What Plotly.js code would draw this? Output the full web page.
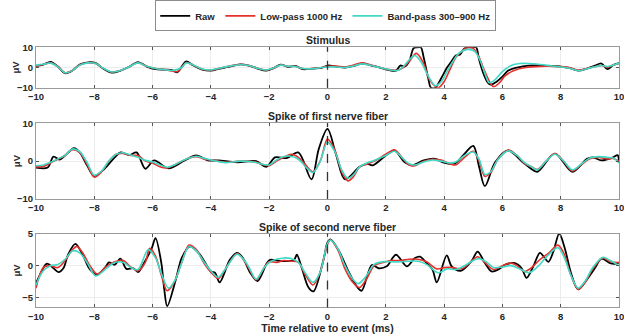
<!DOCTYPE html>
<html>
<head>
<meta charset="utf-8">
<script src="https://cdn.plot.ly/plotly-3.0.1.min.js"></script>
<style>html,body{margin:0;padding:0;background:#fff;}#chart{width:624px;height:336px;}</style>
</head>
<body>
<div id="chart"></div>
<script>
// ---------- DATA ----------
const seriesNames = ["Raw", "Low-pass 1000 Hz", "Band-pass 300–900 Hz"];
const panelTitles = ["Stimulus", "Spike of first nerve fiber", "Spike of second nerve fiber"];
const xTickVals = [-10, -8, -6, -4, -2, 0, 2, 4, 6, 8, 10];
const eventTime = 0;

// Panel 1: Stimulus
const stimRawT = [-10,-9.75,-9.5,-9.25,-9.0,-8.75,-8.5,-8.2,-7.95,-7.7,-7.4,-7.1,-6.85,-6.5,-6.2,-5.9,-5.6,-5.35,-5.15,-5.0,-4.85,-4.6,-4.3,-4.0,-3.7,-3.4,-3.0,-2.7,-2.4,-2.1,-1.85,-1.6,-1.35,-1.1,-0.85,-0.5,-0.2,0,0.3,0.6,0.9,1.2,1.5,1.8,2.1,2.35,2.5,2.65,2.8,2.95,3.05,3.2,3.3,3.45,3.55,3.7,3.8,3.95,4.1,4.25,4.4,4.55,4.7,4.85,5.0,5.1,5.2,5.35,5.5,5.6,5.8,6.0,6.2,6.5,6.9,7.3,7.7,8.0,8.3,8.6,8.9,9.15,9.4,9.6,9.8,10];
const stimRawV = [0.8,1.5,2.8,0.5,-2.8,-1.5,1.5,2.6,2.2,-0.5,-2.5,-1.5,0,2.7,0.5,-0.8,-1,-1.2,-2.3,0.5,3,1,-1,-1.5,-0.5,0.3,1.6,1,-0.5,-1.5,-0.3,1.5,0.3,0.8,-0.8,-0.5,-0.2,1,0.5,0,0.8,2,1,0,-1.2,-1.5,1,0.5,3,9.5,10,10,5,-5,-10,-10,-8,-4,0,3,6,6.5,9.5,10,10,10,4,-3,-7.5,-8.5,-7,-4.5,-1.5,0,1,1,0.8,0.5,-0.2,-1.5,-0.5,0.8,2,-0.8,1.2,2.2];
const stimLpT = [-10,-9.75,-9.5,-9.25,-9.0,-8.75,-8.5,-8.2,-7.95,-7.7,-7.4,-7.1,-6.85,-6.5,-6.2,-5.9,-5.6,-5.3,-5.15,-5.0,-4.85,-4.6,-4.3,-4.0,-3.7,-3.4,-3.0,-2.7,-2.4,-2.1,-1.85,-1.6,-1.35,-1.1,-0.85,-0.5,-0.2,0,0.3,0.6,0.9,1.2,1.5,1.8,2.1,2.4,2.6,2.8,3.05,3.3,3.5,3.8,4.0,4.2,4.4,4.6,4.8,5.0,5.2,5.4,5.6,5.7,5.9,6.1,6.4,6.8,7.3,7.7,8.0,8.3,8.6,8.9,9.2,9.4,9.6,9.8,10];
const stimLpV = [0.8,1.5,2.3,0.5,-2.6,-1.5,1.3,2.4,2,-0.3,-2.2,-1.5,0,2.4,0.6,-0.5,-1,-1.8,-2,0,2.5,1.2,-0.8,-1.3,-0.3,0.6,1.5,1,-0.3,-1.3,-0.3,1.3,0.6,0.6,-0.5,-0.5,0,0.6,0.7,0.3,1.2,2.4,1.2,0,-1,-1.3,0,3,7,2,-6,-10,-7,-1,5,8,10,9.5,5,-2,-8,-9.5,-7.5,-4,-1.5,0,0.6,0.6,0.5,0,-1.3,-0.5,0.5,1,0.2,1.2,2];
const stimBpT = [-10,-9.75,-9.5,-9.25,-9.0,-8.75,-8.5,-8.2,-7.95,-7.7,-7.4,-7.1,-6.85,-6.5,-6.2,-5.9,-5.6,-5.3,-5.0,-4.85,-4.6,-4.3,-4.0,-3.7,-3.4,-3.0,-2.7,-2.4,-2.1,-1.85,-1.6,-1.35,-1.1,-0.85,-0.5,-0.2,0,0.3,0.6,0.9,1.2,1.5,1.8,2.1,2.4,2.6,2.85,3.0,3.2,3.45,3.7,3.9,4.1,4.3,4.5,4.8,5.05,5.25,5.4,5.55,5.75,6.0,6.3,6.6,6.9,7.3,7.7,8.0,8.3,8.6,8.9,9.2,9.4,9.6,9.8,10];
const stimBpV = [1.2,1.6,2.2,0.3,-2.6,-1.5,1.2,2.3,2,-0.2,-2.2,-1.4,0,2.3,0.6,-0.5,-1,-1.4,0,2.3,1.3,-0.7,-1.2,-0.3,0.6,1.4,1,-0.3,-1.2,-0.2,1.2,0.6,0.5,-0.5,-0.6,0,0.3,0.3,0,0.8,1.8,1,0,-1,-1.5,0.5,4.5,6,3,-4,-9,-7,-2,3,7,9,8,3,-3,-7.5,-6,-2,1,2,2,1.5,0.8,0.3,-0.3,-1.6,-0.6,0.5,1,0.5,1.2,2.2];

// Panel 2: Spike of first nerve fiber
const n1RawT = [-10,-9.6,-9.4,-9.2,-9.0,-8.7,-8.5,-8.25,-8.0,-7.65,-7.3,-7.1,-6.8,-6.55,-6.25,-5.95,-5.45,-4.9,-4.5,-4.1,-3.75,-3.1,-2.45,-2.1,-1.8,-1.4,-1.0,-0.55,-0.3,0,0.3,0.6,1.1,1.35,1.55,2.0,2.3,2.65,2.9,3.3,3.7,3.95,4.35,4.65,5.0,5.2,5.4,5.75,6.2,6.7,6.95,7.2,7.8,8.4,8.9,9.1,9.4,9.8,9.95,10];
const n1RawV = [-1.7,-1.7,1.2,0.4,1.5,3.4,2.3,-1.1,-3.9,-2,1,2.3,1.6,2.3,-2,0.2,-1.9,0.2,1.5,0.2,0.2,-0.3,0,-1.5,1.0,0.8,2.3,-4.8,3.2,8.5,1.5,-4.8,-1.5,-0.7,-1.1,1.5,2.8,-0.3,-1.1,0.2,0.6,-0.3,-0.7,1.5,4,-1.5,-6.6,-0.3,2.8,-0.3,-1.8,-2.8,2,-2.8,0.6,1.0,0.2,1.0,1.6,0];
const n1LpT = [-10,-9.75,-9.5,-9.25,-9.0,-8.75,-8.5,-8.25,-8.0,-7.75,-7.5,-7.25,-7.0,-6.75,-6.5,-6.25,-6.0,-5.75,-5.5,-5.25,-5.0,-4.75,-4.5,-4.25,-4.0,-3.75,-3.5,-3.0,-2.5,-2.25,-2.0,-1.75,-1.5,-1.25,-1.0,-0.75,-0.5,-0.25,0,0.25,0.5,0.7,0.9,1.1,1.35,1.6,2.0,2.3,2.55,2.8,3.0,3.3,3.6,3.9,4.2,4.4,4.7,5.0,5.2,5.4,5.6,5.85,6.2,6.5,6.75,7.0,7.2,7.5,7.8,8.1,8.4,8.7,9.0,9.3,9.6,9.8,10];
const n1LpV = [-1.5,-1.4,-0.5,0.5,1.5,3,2.3,-0.8,-4.2,-2.8,0,1.8,2,1.5,1.5,0,-0.5,-1.5,-1.8,-1,0,0.8,1.2,0.6,0.3,0,-0.3,0,-0.2,-0.8,-1.2,0,1,1.8,1,-1,-2.8,0,5.8,3,-3,-5.2,-4,-1.5,-0.8,0,1.8,3,1,-1,-1.2,0,0.5,0.3,-0.7,-1,1,2.6,0,-4,-3,0.5,2.9,1.5,-0.5,-1.5,-2.2,0,2,0,-2.6,-1,0.6,1,0.6,0.7,0];
const n1BpT = n1LpT;
const n1BpV = [-1.2,-1,-0.3,0.6,1.5,3.2,2.5,-0.3,-3.7,-2.6,0,1.8,2.2,1.6,1,0.2,-0.2,-1,-1.6,-1,0,0.8,1.3,0.8,0.3,-0.1,-0.4,0,-0.3,-0.8,-1,0.3,1.2,1.3,0.5,-1.5,-3.0,0,5,2.5,-2.5,-4.5,-3.5,-1.5,-0.5,0.2,1.5,2.6,1,-0.7,-1,-0.2,0.3,0,-0.5,-0.2,1.5,2.4,0.5,-3.5,-2.8,0.5,2.7,1.5,-0.3,-1.5,-2.3,0,1.8,0,-2.3,-0.8,0.8,1.2,1,0.8,-0.5];

// Panel 3: Spike of second nerve fiber
const n2RawT = [-10,-9.86,-9.63,-9.4,-9.23,-9.06,-8.9,-8.65,-8.4,-8.15,-7.9,-7.6,-7.5,-7.3,-7.1,-6.9,-6.66,-6.5,-6.26,-6.03,-5.9,-5.7,-5.6,-5.5,-5.2,-5.0,-4.72,-4.37,-4.0,-3.86,-3.7,-3.35,-3.1,-2.9,-2.65,-2.4,-2.08,-1.97,-1.6,-1.15,-1.05,-0.88,-0.65,-0.48,-0.14,0,0.1,0.37,0.72,1.0,1.17,1.52,1.75,2.03,2.35,2.72,3.0,3.17,3.4,3.6,3.75,4.09,4.26,4.57,4.94,5.15,5.4,5.63,5.86,6.1,6.43,6.66,6.83,7.06,7.29,7.45,7.58,7.75,7.95,8.14,8.37,8.6,8.94,9.17,9.4,9.69,9.86,10];
const n2RawV = [-2.7,-1.4,0.3,-0.4,-1.0,-0.4,1.7,3.4,1.7,-0.6,-1.4,-0.1,0.5,0.15,1.1,-0.5,-0.4,-1,0.7,2.7,4.3,0.4,-3.7,-6.3,-2.1,1.2,3,1.7,-0.9,-1.1,-2.6,0.9,2,1.2,-1.1,-2.4,0.4,0.9,0.7,0.9,1.7,-0.4,-3.4,-4,0.9,3.6,4.1,2.5,-0.9,-3.2,-3.9,0.1,-0.4,-0.1,1.7,-0.1,1.2,1.4,0.4,-0.6,-2.6,1.6,-0.1,-0.8,0.7,2.2,0.4,-0.9,-0.6,0.15,0.4,-0.4,-1.9,-0.1,2,1.2,0.6,2.2,5,2.7,-1.4,-3.7,-1.9,-0.4,1.1,0.4,0.3,0.5];
const n2LpT = [-10,-9.75,-9.5,-9.25,-9.0,-8.75,-8.6,-8.4,-8.15,-7.9,-7.6,-7.3,-7.0,-6.75,-6.5,-6.25,-6.1,-5.9,-5.7,-5.5,-5.25,-5.0,-4.75,-4.5,-4.25,-4.0,-3.75,-3.5,-3.1,-2.75,-2.45,-2.2,-2.0,-1.75,-1.5,-1.25,-1.0,-0.75,-0.5,-0.25,0,0.1,0.35,0.6,0.85,1.1,1.35,1.6,1.9,2.2,2.5,2.8,3.1,3.4,3.75,4.0,4.3,4.6,4.9,5.15,5.4,5.7,6.0,6.3,6.5,6.75,7.0,7.3,7.6,7.9,8.1,8.35,8.6,8.85,9.1,9.45,9.7,10];
const n2LpV = [-3.5,-0.3,0,-0.3,0.8,2.5,3.0,2,0,-1.3,-0.2,0.6,0.8,-0.2,-0.8,0.5,2.7,1.5,-1.5,-3.9,-2.5,0.5,3.2,2.5,0.5,-1,-2,-0.5,1.9,0,-2.2,-0.5,0.6,0.5,0.8,0.7,0.5,-1.5,-3,-1,3.3,4.0,2.5,-0.5,-2.5,-3.4,-2,0,0.5,0.8,0.8,1,1,0.6,-0.5,-0.3,-0.3,-0.5,0.5,1.4,0.5,-0.6,0,0.4,0,-0.9,-0.3,1,2,3.2,2,-1.5,-3.7,-2.5,-0.5,1.2,0.6,0.5];
const n2BpT = [-10,-9.75,-9.5,-9.25,-9.0,-8.75,-8.5,-8.25,-7.95,-7.6,-7.3,-7.0,-6.75,-6.5,-6.15,-5.9,-5.7,-5.45,-5.2,-5.0,-4.75,-4.5,-4.25,-4.0,-3.75,-3.5,-3.1,-2.75,-2.45,-2.2,-2.0,-1.75,-1.5,-1.25,-1.0,-0.75,-0.5,-0.25,0,0.1,0.35,0.6,0.85,1.05,1.3,1.6,1.9,2.2,2.5,2.8,3.1,3.4,3.8,4.1,4.4,4.7,5.0,5.2,5.45,5.7,6.0,6.3,6.6,6.9,7.2,7.5,7.9,8.1,8.35,8.6,8.85,9.1,9.45,9.7,10];
const n2BpV = [-3,-0.8,0,0.2,1,2.3,2,0.5,-1.6,-0.5,0.5,0.5,-0.3,-0.6,2.5,1.2,-1.2,-3.5,-2,0.5,3.0,2.3,0.7,-0.8,-1.8,-0.5,1.8,0.2,-2.1,-0.5,0.5,1.0,1.2,1.1,0.5,-1.2,-2.6,-1,3.5,4.0,2.7,0,-2,-2.8,-1.8,0.2,0.6,0.6,0.6,0.7,0.7,0.2,-1.1,-0.5,-0.6,0,0.8,1.1,0.6,-0.3,-0.2,0,-0.5,-1.1,-0.2,1.3,2.8,1.5,-1.5,-3.5,-2.3,-0.3,1.3,0.8,0];

const panelData = [
  [[stimRawT, stimRawV], [stimLpT, stimLpV], [stimBpT, stimBpV]],
  [[n1RawT, n1RawV], [n1LpT, n1LpV], [n1BpT, n1BpV]],
  [[n2RawT, n2RawV], [n2LpT, n2LpV], [n2BpT, n2BpV]]
];
const yRanges = [[-10, 10], [-10, 10], [-6.5, 5]];
const yTicks = [[-10, 0, 10], [-10, 0, 10], [-5, 0, 5]];

// ---------- STYLE ----------
const colors = ["#000000", "#e3302b", "#3fd9c6"];
const widths = [1.8, 1.6, 1.6];
const W = 624, H = 336;
const xDom = [36 / W, 619 / W];
const boxes = [[43, 84], [120, 197], [232, 307]]; // top, bottom in px
const yDoms = boxes.map(b => [(H - b[1]) / H, (H - b[0]) / H]);
const FAM = "Liberation Sans, Arial, sans-serif";
const tickFont = {family: FAM, size: 9.5, color: "#262626", weight: "bold"};

const traces = [];
panelData.forEach((pd, p) => {
  pd.forEach((s, k) => {
    traces.push({
      x: s[0], y: s[1], type: "scatter", mode: "lines",
      name: seriesNames[k], legendgroup: seriesNames[k], showlegend: p === 0,
      line: {color: colors[k], width: widths[k], shape: "spline", smoothing: 0.9},
      xaxis: p === 0 ? "x" : "x" + (p + 1), yaxis: p === 0 ? "y" : "y" + (p + 1),
      hoverinfo: "skip"
    });
  });
});

const layout = {
  width: W, height: H, autosize: false,
  margin: {l: 0, r: 0, t: 0, b: 0},
  paper_bgcolor: "#fff", plot_bgcolor: "#fff",
  font: tickFont,
  showlegend: true,
  legend: {
    orientation: "h", x: 0.522, xanchor: "center", y: 1 - 11 / H, yanchor: "middle",
    bordercolor: "#8c8c8c", borderwidth: 1, bgcolor: "#fff",
    font: {family: FAM, size: 9.5, color: "#262626", weight: "bold"},
    itemwidth: 30, tracegroupgap: 0
  },
  shapes: [], annotations: []
};

for (let p = 0; p < 3; p++) {
  const sfx = p === 0 ? "" : String(p + 1);
  layout["xaxis" + sfx] = {
    domain: xDom, anchor: "y" + sfx, range: [-10, 10],
    tickvals: xTickVals, ticks: "inside", ticklen: 3, tickcolor: "#555",
    showline: true, mirror: "ticks", linecolor: "#9a9a9a", linewidth: 1,
    showgrid: true, gridcolor: "#ececec", gridwidth: 1, zeroline: false,
    tickfont: tickFont, ticklabeloverflow: "allow", fixedrange: true
  };
  layout["yaxis" + sfx] = {
    domain: yDoms[p], anchor: "x" + sfx, range: yRanges[p],
    tickvals: yTicks[p], ticks: "inside", ticklen: 3, tickcolor: "#555",
    showline: true, mirror: "ticks", linecolor: "#9a9a9a", linewidth: 1,
    showgrid: true, gridcolor: "#ececec", gridwidth: 1, zeroline: false,
    tickfont: tickFont, ticklabeloverflow: "allow", fixedrange: true
  };
  layout.shapes.push({
    type: "line", xref: "x" + sfx, yref: "y" + sfx + " domain",
    x0: eventTime, x1: eventTime, y0: 0, y1: 1,
    line: {color: "#333", width: 1.3, dash: "dash"}, layer: "above"
  });
  layout.annotations.push({
    text: panelTitles[p], xref: "paper", yref: "paper",
    x: (xDom[0] + xDom[1]) / 2, y: yDoms[p][1], xanchor: "center", yanchor: "bottom",
    yshift: -1, showarrow: false,
    font: {family: FAM, size: 10.5, color: "#262626", weight: "bold"}
  });
  layout.annotations.push({
    text: "μV", xref: "paper", yref: "paper", textangle: -90,
    x: 16 / W, y: (yDoms[p][0] + yDoms[p][1]) / 2, xanchor: "center", yanchor: "middle",
    showarrow: false,
    font: {family: FAM, size: 9.5, color: "#262626", weight: "bold"}
  });
}
layout.xaxis3.title = {text: "Time relative to event (ms)", standoff: 3,
  font: {family: FAM, size: 10.5, color: "#262626", weight: "bold"}};

Plotly.newPlot("chart", traces, layout, {staticPlot: true, displayModeBar: false});
</script>
</body>
</html>
